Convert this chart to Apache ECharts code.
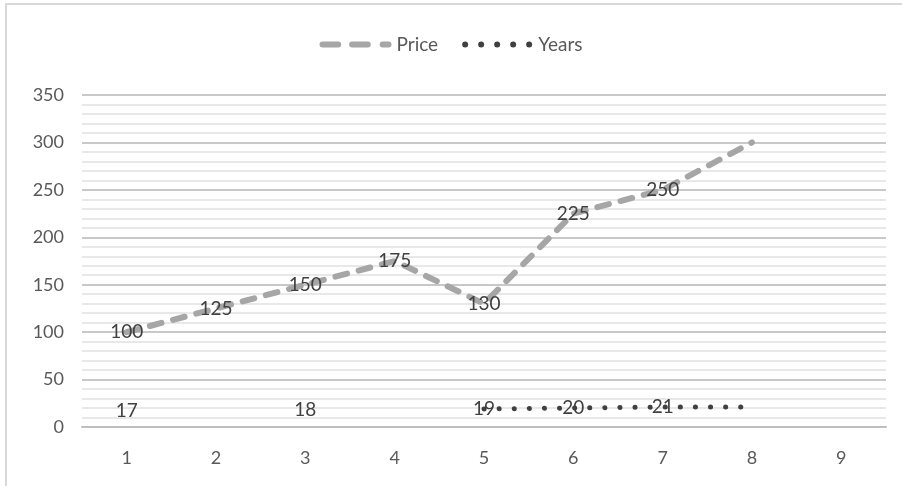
<!DOCTYPE html>
<html>
<head>
<meta charset="utf-8">
<script src="https://cdn.jsdelivr.net/npm/echarts@6/dist/echarts.min.js"></script>
<style>
html, body { margin: 0; padding: 0; background: #fff; }
#chart { width: 902px; height: 486px; }
</style>
</head>
<body>
<div id="chart"></div>
<script>
var categories = ['1', '2', '3', '4', '5', '6', '7', '8', '9'];
var price = [100, 125, 150, 175, 130, 225, 250, 300, null];
var years = [17, null, 18, null, 19, 20, 21, 21, null];
var yTicks = [0, 50, 100, 150, 200, 250, 300, 350];

var myChart = echarts.init(document.getElementById('chart'));

// labels on every point except the last one of each series
function withLabels(arr) {
  return arr.map(function (v, i) {
    if (v === null) return null;
    if (i === 7) return { value: v, label: { show: false } };
    return v;
  });
}

// legend icons: three rounded dashes, five dots
var dashIcon = 'path://M3,0h16a3,3 0 0 1 0,6h-16a3,3 0 0 1 0,-6z' +
  'M33,0h16a3,3 0 0 1 0,6h-16a3,3 0 0 1 0,-6z' +
  'M64,0h6a3,3 0 0 1 0,6h-6a3,3 0 0 1 0,-6z';
var dotIcon = 'path://M0,3a3,3 0 1 0 6,0a3,3 0 1 0 -6,0z' +
  'M16,3a3,3 0 1 0 6,0a3,3 0 1 0 -6,0z' +
  'M32,3a3,3 0 1 0 6,0a3,3 0 1 0 -6,0z' +
  'M48,3a3,3 0 1 0 6,0a3,3 0 1 0 -6,0z' +
  'M64,3a3,3 0 1 0 6,0a3,3 0 1 0 -6,0z';

myChart.setOption({
  animation: false,
  textStyle: { fontFamily: 'Lato' },
  graphic: [{
    type: 'rect',
    shape: { x: 6, y: 4, width: 920, height: 500 },
    style: { fill: 'none', stroke: '#d9d9d9', lineWidth: 2 }
  }],
  legend: {
    top: 30,
    left: 'center',
    itemWidth: 72,
    itemHeight: 6,
    itemGap: 24,
    textStyle: { fontSize: 19, color: '#595959', fontFamily: 'Lato' },
    data: [
      { name: 'Price', icon: dashIcon },
      { name: 'Years', icon: dotIcon, itemStyle: { color: '#404040' } }
    ]
  },
  grid: {
    left: 82,
    right: 16,
    top: 95,
    bottom: 59
  },
  xAxis: {
    type: 'category',
    data: categories,
    boundaryGap: true,
    axisLine: { lineStyle: { color: '#bfbfbf', width: 2 } },
    axisTick: { show: false },
    axisLabel: { fontSize: 18, color: '#595959', margin: 22 }
  },
  yAxis: {
    type: 'value',
    min: 0,
    max: 350,
    interval: 50,
    axisLine: { show: false },
    axisTick: { show: false },
    axisLabel: {
      fontSize: 18, color: '#595959', margin: 18,
      formatter: function (v) { return yTicks.indexOf(v) >= 0 ? String(v) : ''; }
    },
    splitLine: { lineStyle: { color: '#c8c8c8', width: 2 } },
    minorTick: { show: false, splitNumber: 5 },
    minorSplitLine: { show: true, lineStyle: { color: '#e8e8e8', width: 2 } }
  },
  series: [{
    name: 'Price',
    type: 'line',
    data: withLabels(price),
    symbol: 'circle',
    symbolSize: 0,
    showSymbol: true,
    itemStyle: { color: '#a6a6a6' },
    lineStyle: { color: '#a6a6a6', width: 6, type: [12, 12], cap: 'round' },
    label: {
      show: true, position: 'inside', fontSize: 19, color: '#404040', fontFamily: 'Lato'
    }
  }, {
    name: 'Years',
    type: 'line',
    data: withLabels(years),
    connectNulls: false,
    symbol: 'circle',
    symbolSize: 0,
    showSymbol: true,
    itemStyle: { color: '#404040' },
    lineStyle: { color: '#404040', width: 5, type: [0.1, 15], cap: 'round' },
    label: {
      show: true, position: 'inside', fontSize: 19, color: '#404040', fontFamily: 'Lato'
    }
  }]
});
</script>
</body>
</html>
